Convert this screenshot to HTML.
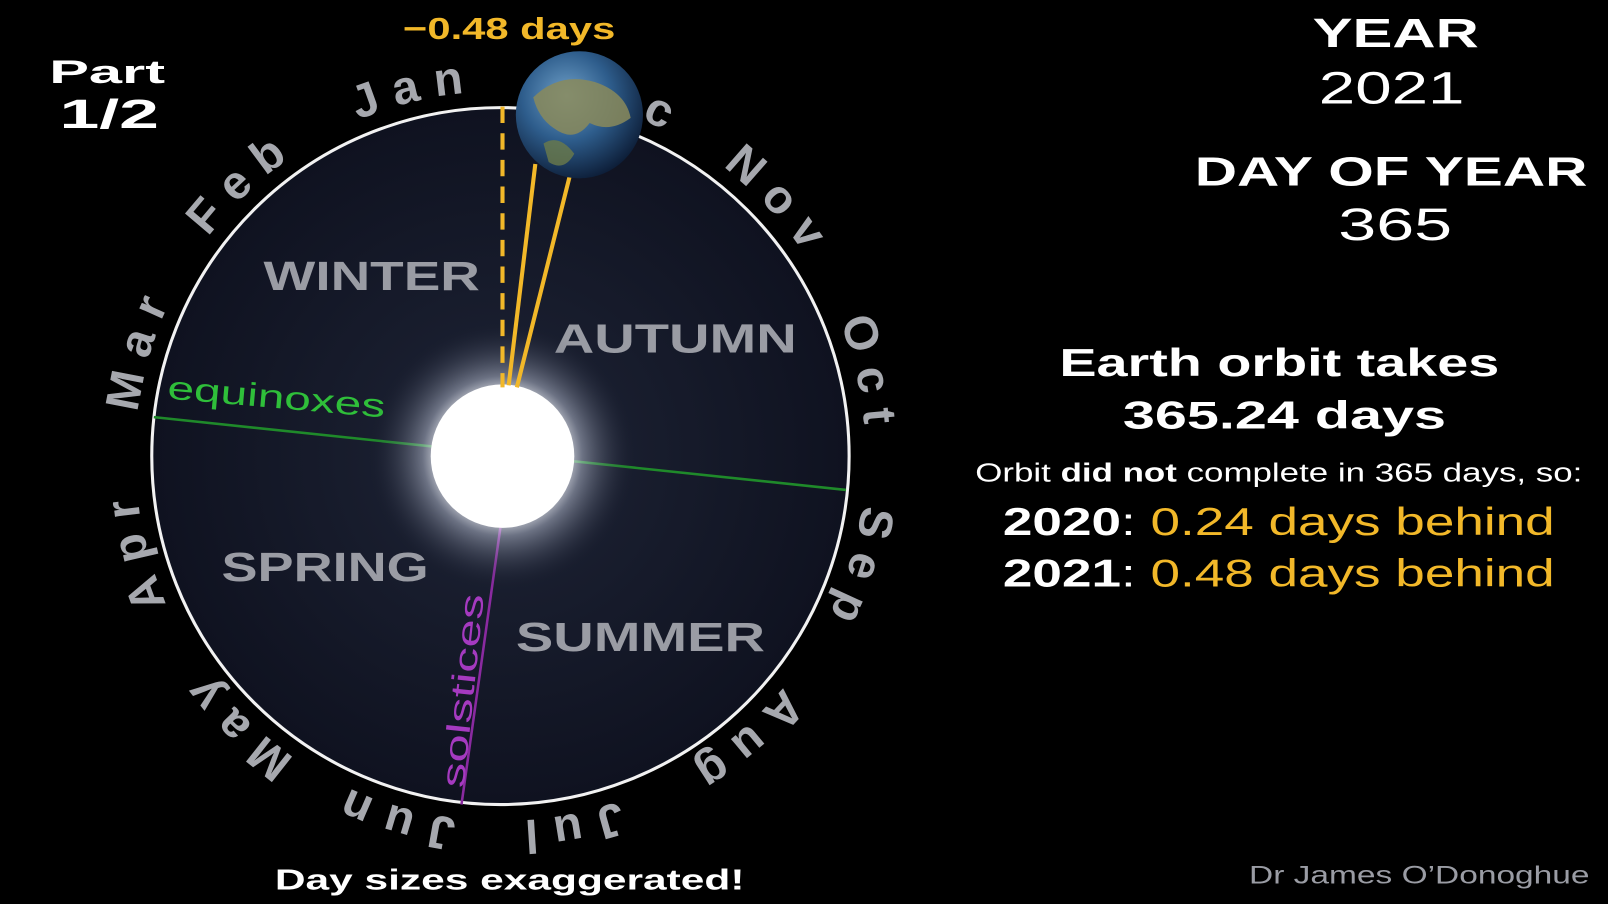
<!DOCTYPE html>
<html><head><meta charset="utf-8"><style>
html,body{margin:0;padding:0;background:#000;width:1608px;height:904px;overflow:hidden}
svg{display:block;font-family:"Liberation Sans",sans-serif}
</style></head><body>
<svg id="s" width="1608" height="904" viewBox="0 0 1568 882" preserveAspectRatio="none">
<defs>
<radialGradient id="orb" cx="50%" cy="50%" r="50%"><stop offset="0" stop-color="#1e2436"/><stop offset="1" stop-color="#0f1220"/></radialGradient>
<radialGradient id="glow"><stop offset="0.45" stop-color="#fff" stop-opacity="0.9"/><stop offset="0.6" stop-color="#cfd6e8" stop-opacity="0.45"/><stop offset="1" stop-color="#1e2436" stop-opacity="0"/></radialGradient>
<radialGradient id="earth" cx="40%" cy="35%" r="70%"><stop offset="0" stop-color="#6fa0c8"/><stop offset="0.5" stop-color="#2e5d8c"/><stop offset="1" stop-color="#0b1a33"/></radialGradient>
</defs>
<rect width="1568" height="882" fill="#000"/>
<circle cx="488" cy="445" r="340" fill="url(#orb)" stroke="#f2f2f2" stroke-width="3"/>
<g id="months"></g>
<line x1="150" y1="407" x2="825" y2="478" stroke="#1f8a2a" stroke-width="2.5"/>
<line x1="490" y1="500" x2="450" y2="785" stroke="#8a2aa0" stroke-width="2.5"/>
<g fill="#9a9ca4" font-weight="bold" font-size="40" lengthAdjust="spacingAndGlyphs">
<text x="257" y="283" textLength="211" lengthAdjust="spacingAndGlyphs">WINTER</text>
<text x="540" y="344" textLength="237" lengthAdjust="spacingAndGlyphs">AUTUMN</text>
<text x="216" y="567" textLength="202" lengthAdjust="spacingAndGlyphs">SPRING</text>
<text x="503" y="635" textLength="243" lengthAdjust="spacingAndGlyphs">SUMMER</text>
</g>
<text x="162" y="398" transform="rotate(5 268 400)" fill="#2fbf3a" font-size="32" textLength="213" lengthAdjust="spacingAndGlyphs">equinoxes</text>
<text x="367" y="675" transform="rotate(-84 462 675)" fill="#a53ac0" font-size="32" textLength="190" lengthAdjust="spacingAndGlyphs">solstices</text>
<circle cx="490" cy="445" r="130" fill="url(#glow)"/>
<circle cx="490" cy="445" r="70" fill="#fff"/>
<line x1="490" y1="104" x2="490" y2="378" stroke="#f2b829" stroke-width="4" stroke-dasharray="16,10"/>
<line x1="496" y1="376" x2="522" y2="160" stroke="#f2b829" stroke-width="4"/>
<line x1="504" y1="378" x2="556" y2="170" stroke="#f2b829" stroke-width="4"/>
<g>
<circle cx="565" cy="112" r="62" fill="url(#earth)"/>
<path d="M520 95 Q545 70 580 80 Q610 90 615 115 Q595 130 575 120 Q560 140 540 125 Q525 115 520 95Z" fill="#8a8a5a" opacity="0.85"/>
<path d="M530 140 Q545 130 560 150 Q550 168 535 158Z" fill="#6b7a4a" opacity="0.8"/>
</g>
<text x="393" y="38" fill="#f2b829" font-size="30" font-weight="bold" textLength="207" lengthAdjust="spacingAndGlyphs">−0.48 days</text>
<text x="48" y="81" fill="#fff" font-size="32" font-weight="bold" textLength="113" lengthAdjust="spacingAndGlyphs">Part</text>
<text x="58" y="125" fill="#fff" font-size="40" font-weight="bold" textLength="97" lengthAdjust="spacingAndGlyphs">1/2</text>
<g fill="#fff">
<text x="1280" y="46" font-size="40" font-weight="bold" textLength="162" lengthAdjust="spacingAndGlyphs">YEAR</text>
<text x="1286" y="101" font-size="44" textLength="142" lengthAdjust="spacingAndGlyphs">2021</text>
<text x="1165" y="181" font-size="40" font-weight="bold" textLength="383" lengthAdjust="spacingAndGlyphs">DAY OF YEAR</text>
<text x="1305" y="234" font-size="44" textLength="111" lengthAdjust="spacingAndGlyphs">365</text>
<text x="1033" y="367" font-size="38" font-weight="bold" textLength="429" lengthAdjust="spacingAndGlyphs">Earth orbit takes</text>
<text x="1095" y="418" font-size="38" font-weight="bold" textLength="315" lengthAdjust="spacingAndGlyphs">365.24 days</text>
<text x="951" y="470" font-size="25" textLength="592" lengthAdjust="spacingAndGlyphs">Orbit <tspan font-weight="bold">did not</tspan> complete in 365 days, so:</text>
<text x="978" y="522" font-size="38" textLength="538" lengthAdjust="spacingAndGlyphs"><tspan font-weight="bold">2020</tspan>: <tspan fill="#f2b829">0.24 days behind</tspan></text>
<text x="978" y="572" font-size="38" textLength="538" lengthAdjust="spacingAndGlyphs"><tspan font-weight="bold">2021</tspan>: <tspan fill="#f2b829">0.48 days behind</tspan></text>
<text x="268" y="868" font-size="28" font-weight="bold" textLength="458" lengthAdjust="spacingAndGlyphs">Day sizes exaggerated!</text>
</g>
<text x="1218" y="862" fill="#9a9ca4" font-size="24" textLength="332" lengthAdjust="spacingAndGlyphs">Dr James O’Donoghue</text>
</svg>
<script>
const months=["Jan","Feb","Mar","Apr","May","Jun","Jul","Aug","Sep","Oct","Nov","Dec"];
const monthAngles=[345,315,285,254,223,195,168,138,106,76,46,17];
const NS="http://www.w3.org/2000/svg";
const cx=488,cy=445,R=356;
const g=document.getElementById('months');
const defs=document.querySelector('defs');
months.forEach((m,i)=>{
  const a=monthAngles[i];
  const s=(a-60)*Math.PI/180;
  const e=(a+60)*Math.PI/180;
  const p=document.createElementNS(NS,'path');
  p.setAttribute('id','mp'+i);
  p.setAttribute('d',`M${cx+R*Math.sin(s)} ${cy-R*Math.cos(s)} A${R} ${R} 0 0 1 ${cx+R*Math.sin(e)} ${cy-R*Math.cos(e)}`);
  defs.appendChild(p);
  const t=document.createElementNS(NS,'text');
  
  
  t.setAttribute('fill','#a6a8ae');
  t.setAttribute('font-size','46');
  t.setAttribute('font-weight','bold');
  t.setAttribute('letter-spacing','14');
  t.setAttribute('text-anchor','middle');
  const tp=document.createElementNS(NS,'textPath');
  tp.setAttribute('href','#mp'+i);
  tp.setAttribute('startOffset','51.5%');
  tp.textContent=m;
  t.appendChild(tp);
  g.appendChild(t);
});
</script>
</body></html>
